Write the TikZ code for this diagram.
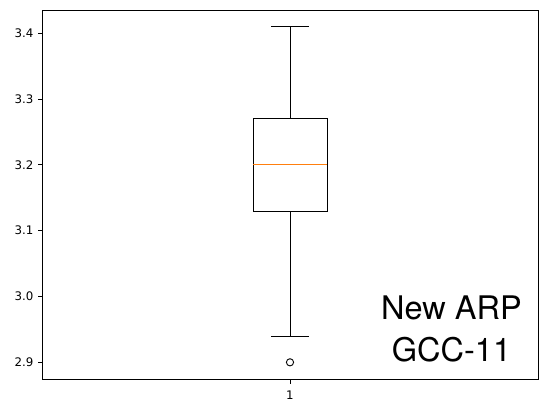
\documentclass[tikz,border=0pt]{standalone}
\usepackage{fontspec}
\setmainfont{DejaVu Sans}
\newfontfamily\helv{TeX Gyre Heros}
\definecolor{mplorange}{HTML}{FF7F0E}
\begin{document}
\begin{tikzpicture}[x=1pt,y=-1pt,
  axisline/.style={line width=0.85pt,black},
  boxline/.style={line width=1.0pt,black},
  tickline/.style={line width=0.85pt,black},
  ticklab/.style={inner sep=0pt,font=\fontsize{11.8}{14}\selectfont},
  biglab/.style={inner sep=0pt,align=center,font=\helv\fontsize{32.5}{42}\selectfont}]
\useasboundingbox (0,0) rectangle (547,413);
% axes frame
\draw[axisline] (42.5,10.5) rectangle (538.3,379.3);
% y ticks
\foreach \v/\yy in {3.4/33.3,3.3/99.1,3.2/164.9,3.1/230.7,3.0/296.5,2.9/362.3}{
  \draw[tickline] (38.3,\yy) -- (42.5,\yy);
  \node[ticklab,anchor=east] (yl\v) at (33.5,\yy) {\v};
}
% x tick
\draw[tickline] (290,379.3) -- (290,383.5);
\node[ticklab,anchor=north] (xl1) at (290,390.8) {1};
% box
\draw[boxline] (253.3,118.8) rectangle (327.3,211.0);
\draw[line width=1.0pt,mplorange] (253.3,164.9) -- (327.3,164.9);
% whiskers
\draw[boxline] (290,118.8) -- (290,26.7);
\draw[boxline] (290,211.0) -- (290,336.0);
\draw[boxline] (271,26.7) -- (309,26.7);
\draw[boxline] (271,336.0) -- (309,336.0);
% outlier
\draw[line width=0.9pt] (290,362.3) circle[radius=3.6];
% label
\node[biglab,anchor=north] (lab) at (451.5,295.8) {New ARP\\GCC-11};
\end{tikzpicture}
\end{document}
